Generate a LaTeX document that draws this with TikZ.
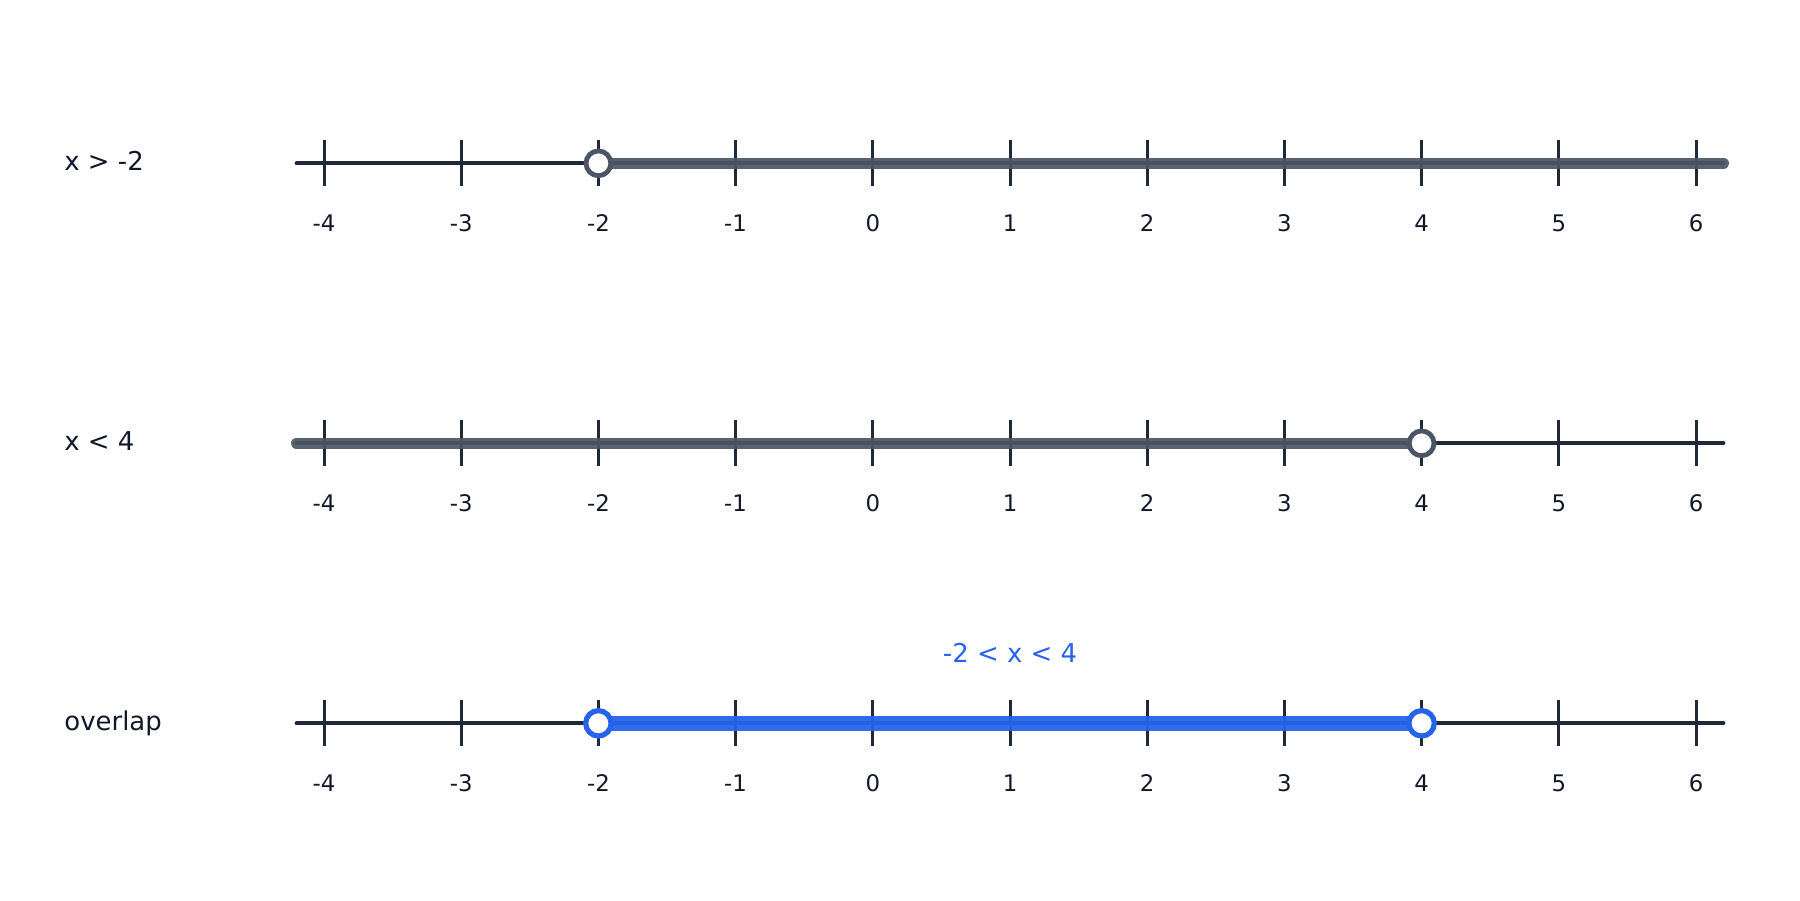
\documentclass[tikz,border=0pt]{standalone}
\usepackage{fontspec}
\setmainfont{DejaVu Sans}
\definecolor{axisc}{HTML}{1F2937}
\definecolor{txtc}{HTML}{111827}
\definecolor{grayc}{HTML}{4B5563}
\definecolor{bluec}{HTML}{2563EB}
\tikzset{
  axisline/.style={draw=axisc, line width=1.93pt, line cap=round},
  tickmark/.style={draw=axisc, line width=1.45pt},
  ticklabel/.style={font=\fontsize{11}{13}\selectfont, text=txtc, inner sep=0pt, anchor=base},
  rowlabel/.style={font=\fontsize{12.5}{15}\selectfont, text=txtc, inner sep=0pt, anchor=base west},
  grayray/.style={draw=grayc, line width=5.5pt, line cap=round, draw opacity=0.92},
  bluerange/.style={draw=bluec, line width=7.4pt, draw opacity=0.95},
  opengray/.style={circle, draw=grayc, fill=white, line width=2.3pt, minimum size=24.8*0.4818pt, inner sep=0pt},
  openblue/.style={circle, draw=bluec, fill=white, line width=2.5pt, minimum size=25.4*0.4818pt, inner sep=0pt},
}
\begin{document}
\begin{tikzpicture}[x=0.4818pt, y=-0.4818pt]
\useasboundingbox (0,0) rectangle (1800,900);
% rows: y positions
\foreach \r/\yy in {1/163.3, 2/443.3, 3/723.3} {
  \coordinate (s\r) at (296.6,\yy);
  \coordinate (e\r) at (1723.4,\yy);
  \draw[axisline] (s\r) -- (e\r);
  \foreach \v [count=\i] in {-4,...,6} {
    \coordinate (t\r-\i) at ({324+(\v+4)*137.2},\yy);
    \draw[tickmark] ([yshift=23*0.4818pt]t\r-\i) -- ([yshift=-23*0.4818pt]t\r-\i);
    \node[ticklabel] (l\r-\i) at ({324+(\v+4)*137.2},\yy+68.5) {\v};
  }
}
% row labels
\node[rowlabel] (lab1) at (64,170.7) {x > -2};
\node[rowlabel] (lab2) at (64,450.7) {x < 4};
\node[rowlabel] (lab3) at (64,730.7) {overlap};
% row 1: x > -2
\draw[grayray] (t1-3) -- (e1);
\node[opengray] (c1) at (t1-3) {};
% row 2: x < 4
\draw[grayray] (s2) -- (t2-9);
\node[opengray] (c2) at (t2-9) {};
% row 3: overlap
\draw[bluerange] (t3-3) -- (t3-9);
\node[openblue] (c3a) at (t3-3) {};
\node[openblue] (c3b) at (t3-9) {};
\node[font=\fontsize{12.5}{15}\selectfont, text=bluec, inner sep=0pt, anchor=base] (rng) at (1010,662) {-2 < x < 4};
\end{tikzpicture}
\end{document}
